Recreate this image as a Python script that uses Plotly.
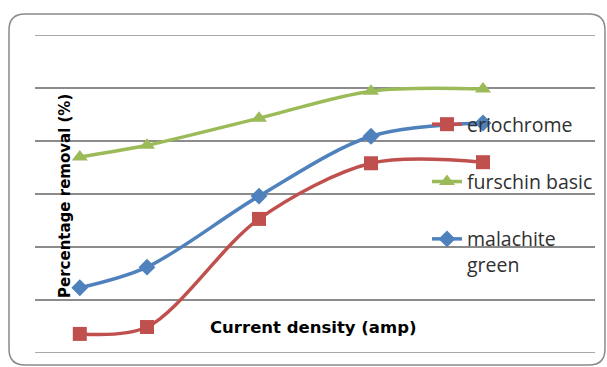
import plotly.graph_objects as go

current = [0.4, 1.0, 2.0, 3.0, 4.0]
eriochrome = [43.6, 44.9, 65.3, 75.8, 76.0]
furschin = [77.0, 79.2, 84.3, 89.4, 89.8]
malachite = [52.3, 56.2, 69.6, 80.9, 83.4]
names = ["eriochrome", "furschin basic", "malachite<br>green"]
y_range = [40, 100]

W, H = 607, 367
ml, mr, mt, mb = 35, 12, 35, 14
pw, ph = W - ml - mr, H - mt - mb

def px(x):
    return (x - ml) / pw

def py(y):
    return (H - mb - y) / ph

fig = go.Figure()
fig.add_trace(go.Scatter(x=current, y=eriochrome, name=names[0], legendgroup="a",
                         mode="lines+markers", line=dict(color="#C0504D", width=3.5, shape="spline", smoothing=0.9),
                         marker=dict(symbol="square", size=14, color="#C0504D")))
fig.add_trace(go.Scatter(x=current, y=furschin, name=names[1], legendgroup="b",
                         mode="lines+markers", line=dict(color="#9BBB59", width=3.5, shape="spline", smoothing=0.9),
                         marker=dict(symbol="triangle-up", size=14, color="#9BBB59")))
fig.add_trace(go.Scatter(x=current, y=malachite, name=names[2], legendgroup="c",
                         mode="lines+markers", line=dict(color="#4F81BD", width=3.5, shape="spline", smoothing=0.9),
                         marker=dict(symbol="diamond", size=13, color="#4F81BD")))

# edge gridlines (top and bottom of the value axis)
for v in y_range:
    fig.add_shape(type="line", xref="paper", yref="y", x0=0, x1=1, y0=v, y1=v,
                  line=dict(color="#8c8c8c", width=1.5), layer="below")

# rounded outer border
L, T, R, B, r = 9, 14, 605, 365, 16
x0, y0, x1, y1 = px(L), py(T), px(R), py(B)
path = (f"M{x0},{py(T + r)} Q{x0},{y0} {px(L + r)},{y0} L{px(R - r)},{y0} "
        f"Q{x1},{y0} {x1},{py(T + r)} L{x1},{py(B - r)} Q{x1},{y1} {px(R - r)},{y1} "
        f"L{px(L + r)},{y1} Q{x0},{y1} {x0},{py(B - r)} Z")
fig.add_shape(type="path", path=path, xref="paper", yref="paper",
              line=dict(color="#8a8a8a", width=1.5), layer="below")

fig.add_annotation(text="<b>Percentage removal (%)</b>", textangle=-90, xref="paper", yref="paper",
                   x=px(54), y=py(196), showarrow=False, font=dict(family="DejaVu Sans", size=15, color="black"))
fig.add_annotation(text="<b>Current density (amp)</b>", xref="paper", yref="paper",
                   x=px(313), y=py(339), showarrow=False, font=dict(family="DejaVu Sans", size=16.5, color="black"))

fig.update_layout(
    width=W, height=H, margin=dict(l=ml, r=mr, t=mt, b=mb, autoexpand=False),
    paper_bgcolor="white", plot_bgcolor="white",
    showlegend=True,
    legend=dict(x=px(427), y=py(105), xanchor="left", yanchor="top", tracegroupgap=29,
                valign="top", bgcolor="rgba(0,0,0,0)",
                font=dict(family="Open Sans", size=19.5, color="#303030")),
    xaxis=dict(range=[0, 5], showgrid=False, showticklabels=False, ticks="", zeroline=False, showline=False),
    yaxis=dict(range=y_range, dtick=10, tick0=40, showgrid=True, gridcolor="#8c8c8c", gridwidth=1.5,
               showticklabels=False, ticks="", zeroline=False, showline=False),
)
fig.write_html("out.html")
